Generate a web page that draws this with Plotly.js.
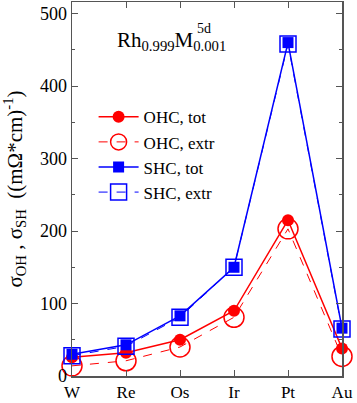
<!DOCTYPE html>
<html>
<head>
<meta charset="utf-8">
<script src="https://cdn.plot.ly/plotly-3.0.1.min.js"></script>
<style>
  html, body { margin: 0; padding: 0; background: #fff; }
  #chart { width: 357px; height: 403px; }
</style>
</head>
<body>
<div id="chart"></div>
<script>
var elements = ['W', 'Re', 'Os', 'Ir', 'Pt', 'Au'];
var xIdx = [0, 1, 2, 3, 4, 5];

var ohcTot  = [26, 32, 50, 90, 215, 38];
var ohcExtr = [14, 21, 40, 81, 203, 27];
var shcTot  = [30, 43, 83, 150, 460, 66];
var shcExtr = [28, 41, 81, 150, 458, 65];

var red = '#ff0000';
var blue = '#0000ff';
var serif = "'Liberation Serif', 'Times New Roman', serif";

var traces = [
    {
        x: xIdx, y: ohcTot, name: 'OHC, tot', mode: 'lines+markers',
        line: {color: red, width: 1.5},
        marker: {symbol: 'circle', size: 12, color: red}
    },
    {
        x: xIdx, y: ohcExtr, name: 'OHC, extr', mode: 'lines+markers',
        line: {color: red, width: 1, dash: 'dash'},
        marker: {symbol: 'circle-open', size: 20, color: red, line: {width: 1.5}}
    },
    {
        x: xIdx, y: shcTot, name: 'SHC, tot', mode: 'lines+markers',
        line: {color: blue, width: 1.5},
        marker: {symbol: 'square', size: 11, color: blue}
    },
    {
        x: xIdx, y: shcExtr, name: 'SHC, extr', mode: 'lines+markers',
        line: {color: blue, width: 1, dash: 'dash'},
        marker: {symbol: 'square-open', size: 16, color: blue, line: {width: 1.5}}
    }
];
traces.forEach(function(t){ t.cliponaxis = false; });

var layout = {
    width: 357,
    height: 403,
    margin: {l: 72, r: 15, t: 2, b: 27},
    paper_bgcolor: '#fff',
    plot_bgcolor: '#fff',
    font: {family: serif, size: 16, color: '#000'},
    showlegend: true,
    legend: {
        x: 0.08, y: 0.74, xanchor: 'left', yanchor: 'top',
        bgcolor: 'rgba(0,0,0,0)',
        font: {family: serif, size: 17},
        itemwidth: 40,
        tracegroupgap: 0
    },
    xaxis: {
        range: [0, 5],
        tickvals: xIdx,
        ticktext: elements,
        ticks: 'inside',
        ticklen: 6,
        tickcolor: '#555',
        mirror: 'ticks',
        showline: true,
        linecolor: '#555',
        linewidth: 1.5,
        showgrid: false,
        zeroline: false,
        tickfont: {family: serif, size: 17}
    },
    yaxis: {
        range: [0, 516],
        dtick: 100,
        ticks: 'inside',
        ticklen: 6,
        tickcolor: '#555',
        mirror: 'ticks',
        showline: true,
        linecolor: '#555',
        linewidth: 1.5,
        showgrid: false,
        zeroline: false,
        tickfont: {family: serif, size: 18},
        minor: {dtick: 50, ticks: 'inside', ticklen: 3, tickcolor: '#555'},
        title: {
            text: 'σ<sub>OH</sub> , σ<sub>SH</sub>  ((mΩ*cm)<sup>-1</sup>)',
            font: {family: serif, size: 21},
            standoff: 12
        }
    },
    annotations: [
        {
            xref: 'paper', yref: 'paper', x: 0.16, y: 0.895,
            xanchor: 'left', yanchor: 'middle', showarrow: false,
            text: 'Rh<sub>0.999</sub>M<sub>0.001</sub>',
            font: {family: serif, size: 21}
        },
        {
            xref: 'paper', yref: 'paper', x: 0.455, y: 0.93,
            xanchor: 'left', yanchor: 'middle', showarrow: false,
            text: '5d',
            font: {family: serif, size: 14}
        }
    ]
};

Plotly.newPlot('chart', traces, layout, {displayModeBar: false, staticPlot: true});
</script>
</body>
</html>
